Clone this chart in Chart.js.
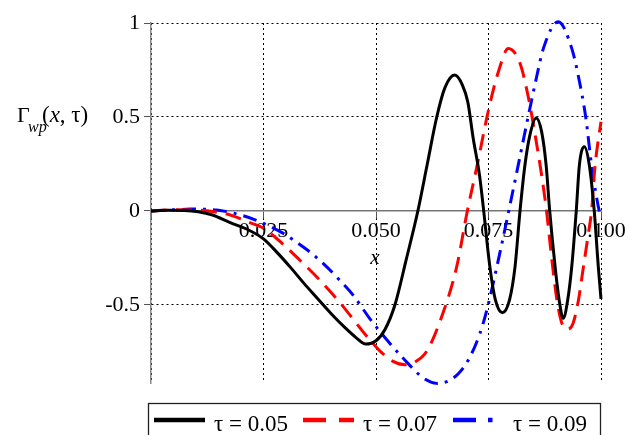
<!DOCTYPE html>
<html>
<head>
<meta charset="utf-8">
<script src="https://cdn.jsdelivr.net/npm/chart.js@4.4.1/dist/chart.umd.min.js"></script>
<style>
  html, body { margin: 0; padding: 0; background: #fff; }
  #contenedor { width: 632px; height: 435px; position: relative; }
</style>
</head>
<body>
<div id="contenedor"><canvas id="grafico"></canvas></div>
<script>
// Datos (x, Γ_wp) para cada τ
const etiquetas = ["τ = 0.05", "τ = 0.07", "τ = 0.09"];

const xTau005 = [0, 0.004, 0.0075, 0.0105, 0.0135, 0.0176, 0.022, 0.025, 0.028, 0.031, 0.034, 0.037, 0.04, 0.043,
  0.0455, 0.0477, 0.05, 0.052, 0.0542, 0.0567, 0.0593, 0.0614, 0.0635, 0.0653, 0.0675, 0.0692, 0.0704, 0.0716,
  0.073, 0.0738, 0.0753, 0.0765, 0.0781, 0.0797, 0.0809, 0.082, 0.0831, 0.0842, 0.0856, 0.0868, 0.0878, 0.0886,
  0.0898, 0.0907, 0.0916, 0.0926, 0.0935, 0.0945, 0.0952, 0.0963, 0.0974, 0.0985, 0.0994, 0.1];
const yTau005 = [0, 0.004, 0.003, -0.004, -0.02, -0.062, -0.105, -0.148, -0.22, -0.3, -0.385, -0.465, -0.545, -0.618,
  -0.672, -0.708, -0.69, -0.63, -0.5, -0.26, 0, 0.25, 0.5, 0.655, 0.723, 0.67, 0.58, 0.387,
  0.191, 0.03, -0.296, -0.47, -0.541, -0.47, -0.296, 0, 0.245, 0.404, 0.495, 0.422, 0.245, 0,
  -0.296, -0.473, -0.571, -0.473, -0.296, 0, 0.245, 0.342, 0.245, 0, -0.296, -0.468];

const xTau007 = [0, 0.005, 0.01, 0.014, 0.0176, 0.022, 0.025, 0.0294, 0.0331, 0.0376, 0.042, 0.0479, 0.0509, 0.0538,
  0.0564, 0.0587, 0.0613, 0.065, 0.0679, 0.0703, 0.0725, 0.075, 0.0772, 0.0794, 0.082, 0.0839, 0.0853, 0.0868,
  0.0879, 0.089, 0.0902, 0.0913, 0.0926, 0.0938, 0.095, 0.0961, 0.0972, 0.0979, 0.0987, 0.1];
const yTau007 = [0, 0.006, 0.005, -0.004, -0.021, -0.062, -0.092, -0.178, -0.262, -0.37, -0.488, -0.665, -0.745, -0.8,
  -0.818, -0.803, -0.745, -0.535, -0.3, 0, 0.245, 0.537, 0.741, 0.865, 0.786, 0.6, 0.413, 0.191,
  0, -0.243, -0.473, -0.597, -0.629, -0.597, -0.473, -0.296, -0.119, 0, 0.245, 0.475];

const xTau009 = [0, 0.005, 0.0087, 0.0146, 0.0205, 0.0242, 0.0294, 0.032, 0.0346, 0.0383, 0.042, 0.045, 0.0487, 0.0524,
  0.0561, 0.0605, 0.0635, 0.066, 0.0685, 0.0708, 0.0731, 0.0746, 0.0776, 0.0795, 0.0814, 0.0838, 0.0857, 0.0872,
  0.0905, 0.0935, 0.095, 0.0966, 0.0979, 0.0996, 0.1];
const yTau009 = [0, 0.006, 0.01, 0.005, -0.025, -0.057, -0.119, -0.16, -0.205, -0.28, -0.37, -0.45, -0.575, -0.685,
  -0.785, -0.888, -0.917, -0.905, -0.86, -0.78, -0.651, -0.53, -0.215, 0, 0.22, 0.5, 0.714, 0.865,
  1.007, 0.865, 0.714, 0.5, 0.245, 0, -0.03];

const ticksX = [0, 0.025, 0.05, 0.075, 0.1];
const etiquetasX = ["", "0.025", "0.050", "0.075", "0.100"];
const ticksY = [-0.5, 0, 0.5, 1];
const etiquetasY = ["-0.5", "0", "0.5", "1"];

const colores = ["#000000", "#ff0000", "#0000ff"];
const guiones = [[], [16, 9], [14, 7, 3, 7]];
const guionesLeyenda = [[], [23, 13], [23, 12, 4.5, 20]];

const fuente = '"Liberation Serif", "Times New Roman", serif';

const aPuntos = (xs, ys) => xs.map((x, i) => ({ x, y: ys[i] }));
const series = [aPuntos(xTau005, yTau005), aPuntos(xTau007, yTau007), aPuntos(xTau009, yTau009)];

// Título del eje y, "x" y caja de leyenda dibujados a mano
const decoraciones = {
  id: "decoraciones",
  afterDraw(chart) {
    const ctx = chart.ctx;
    ctx.save();
    ctx.fillStyle = "#000";
    ctx.textBaseline = "alphabetic";

    // Γ_wp(x, τ)
    let px = 17;
    ctx.font = "22px " + fuente;
    ctx.fillText("Γ", px, 122);
    ctx.font = "italic 16px " + fuente;
    ctx.fillText("wp", 28, 132);
    px = 42;
    const partes = [["(", ""], ["x", "italic "], [", ", ""], ["τ", ""], [")", ""]];
    partes.forEach(([t, estilo]) => {
      ctx.font = estilo + "23px " + fuente;
      ctx.fillText(t, px, 122);
      px += ctx.measureText(t).width;
    });

    // etiqueta x
    ctx.font = "italic 21px " + fuente;
    ctx.textAlign = "center";
    ctx.fillText("x", chart.scales.x.getPixelForValue(0.05) - 1, 264);
    ctx.textAlign = "left";

    // leyenda
    ctx.strokeStyle = "#222";
    ctx.lineWidth = 1.3;
    ctx.strokeRect(148.5, 403.5, 452, 40);
    const inicios = [154, 303, 453];
    chart.data.datasets.forEach((ds, i) => {
      const x0 = inicios[i];
      ctx.beginPath();
      ctx.setLineDash(guionesLeyenda[i]);
      ctx.strokeStyle = ds.borderColor;
      ctx.lineWidth = 4.5;
      ctx.moveTo(x0, 420);
      ctx.lineTo(x0 + 51, 420);
      ctx.stroke();
      ctx.setLineDash([]);
      ctx.font = "23px " + fuente;
      ctx.fillStyle = "#000";
      ctx.fillText(ds.label, x0 + 60, 431);
    });
    ctx.restore();
  },
};

new Chart(document.getElementById("grafico"), {
  type: "line",
  data: {
    datasets: series.map((datos, i) => ({
      label: etiquetas[i],
      data: datos,
      borderColor: colores[i],
      backgroundColor: colores[i],
      borderWidth: 3,
      borderDash: guiones[i],
      pointRadius: 0,
      cubicInterpolationMode: "monotone",
      fill: false,
      clip: false,
    })),
  },
  options: {
    responsive: true,
    maintainAspectRatio: false,
    animation: false,
    layout: { padding: { top: 23, right: 31, bottom: 52, left: 0 } },
    plugins: {
      legend: { display: false },
      tooltip: { enabled: false },
    },
    scales: {
      x: {
        type: "linear",
        position: { y: 0 },
        min: 0,
        max: 0.1,
        afterBuildTicks: (scale) => {
          scale.ticks = ticksX.map((v) => ({ value: v }));
        },
        ticks: {
          callback: (v, i) => etiquetasX[i],
          font: { family: fuente, size: 22 },
          color: "#000",
          padding: 0,
          maxRotation: 0,
          autoSkip: false,
        },
        grid: { color: "#000", lineWidth: 1, tickLength: 7, tickColor: "#555", tickWidth: 1 },
        border: { display: true, color: "#777", width: 1.5, dash: [2, 3] },
      },
      y: {
        type: "linear",
        min: -0.915,
        max: 1,
        afterBuildTicks: (scale) => {
          scale.ticks = ticksY.map((v) => ({ value: v }));
        },
        afterFit: (scale) => {
          scale.width = 151;
        },
        ticks: {
          callback: (v, i) => etiquetasY[i],
          font: { family: fuente, size: 22 },
          color: "#000",
          padding: 4,
        },
        grid: {
          color: (c) => (c.tick && c.tick.value === 0 ? "rgba(0,0,0,0)" : "#000"),
          lineWidth: 1,
          tickLength: 7,
          tickColor: "#555",
        },
        border: { display: true, color: "#888", width: 1.5, dash: [2, 3] },
      },
    },
  },
  plugins: [decoraciones],
});
</script>
</body>
</html>
